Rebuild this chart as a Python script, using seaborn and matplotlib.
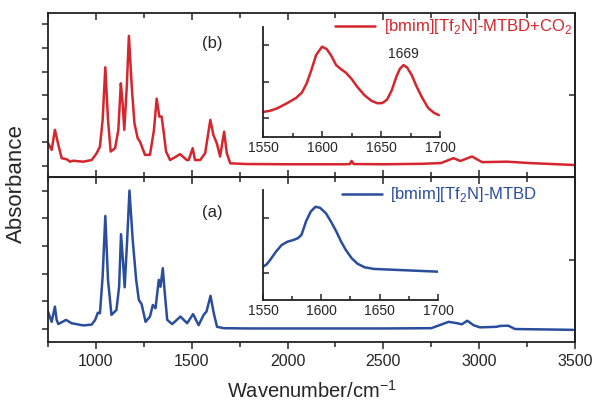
import matplotlib.pyplot as plt
import matplotlib.ticker as mticker
import seaborn as sns

sns.set_style("ticks")
plt.rcParams["font.family"] = ["Liberation Sans", "DejaVu Sans"]
plt.rcParams["mathtext.fontset"] = "custom"
plt.rcParams["mathtext.rm"] = "Liberation Sans"

red = "#d6262d"
blue = "#2a4d9c"

# (b) [bmim][Tf2N]-MTBD+CO2
wn_b = [750, 769, 786, 804, 821, 848, 865, 882, 934, 978, 1004, 1021, 1035, 1049, 1063,
        1077, 1100, 1117, 1130, 1138, 1148, 1161, 1172, 1187, 1201, 1218, 1230, 1256, 1282, 1303,
        1317, 1331, 1343, 1352, 1366, 1387, 1413, 1439, 1474, 1484, 1505, 1517, 1544, 1570, 1597,
        1613, 1631, 1648, 1669, 1683, 1701, 1788, 2000, 2300, 2325, 2334, 2345, 2500, 2700, 2800,
        2866, 2902, 2963, 3015, 3145, 3267, 3493]
abs_b = [0.097, 0.068, 0.153, 0.089, 0.033, 0.028, 0.018, 0.022, 0.018, 0.025, 0.054, 0.082, 0.195, 0.418, 0.195,
         0.061, 0.075, 0.153, 0.350, 0.280, 0.153, 0.336, 0.551, 0.336, 0.181, 0.117, 0.103, 0.047, 0.047, 0.153,
         0.285, 0.209, 0.209, 0.153, 0.061, 0.025, 0.037, 0.050, 0.025, 0.025, 0.075, 0.025, 0.025, 0.054, 0.195,
         0.131, 0.096, 0.040, 0.145, 0.054, 0.011, 0.008, 0.007, 0.007, 0.008, 0.021, 0.008, 0.007, 0.009, 0.012,
         0.033, 0.021, 0.040, 0.016, 0.018, 0.012, 0.004]

# (a) [bmim][Tf2N]-MTBD
wn_a = [750, 769, 786, 795, 804, 844, 873, 934, 978, 996, 1010, 1021, 1035, 1049, 1063,
        1081, 1107, 1121, 1131, 1142, 1150, 1163, 1175, 1192, 1210, 1224, 1238, 1259, 1282, 1297,
        1311, 1328, 1337, 1349, 1358, 1372, 1398, 1441, 1476, 1507, 1536, 1562, 1577, 1598, 1615,
        1632, 1667, 1800, 2000, 2500, 2750, 2841, 2885, 2909, 2938, 2970, 3004, 3091, 3108, 3152,
        3187, 3490]
abs_a = [0.063, 0.026, 0.081, 0.033, 0.018, 0.033, 0.021, 0.013, 0.016, 0.033, 0.059, 0.057, 0.190, 0.409, 0.178,
         0.051, 0.069, 0.153, 0.343, 0.238, 0.151, 0.322, 0.501, 0.322, 0.178, 0.105, 0.091, 0.026, 0.045, 0.087,
         0.075, 0.178, 0.153, 0.220, 0.141, 0.033, 0.018, 0.045, 0.021, 0.054, 0.014, 0.051, 0.063, 0.120, 0.057,
         0.008, 0.003, 0.002, 0.002, 0.002, 0.003, 0.026, 0.021, 0.017, 0.030, 0.014, 0.006, 0.008, 0.011, 0.012,
         0.000, -0.003]

# insets, 1550-1700 cm-1
ins_wn_b = [1550, 1556, 1562, 1570, 1578, 1583, 1587, 1591, 1595, 1600, 1604, 1608, 1612, 1616, 1620,
            1625, 1630, 1636, 1642, 1647, 1651, 1655, 1659, 1663, 1666, 1669, 1672, 1676, 1680, 1685,
            1690, 1695, 1699]
ins_abs_b = [0.233, 0.240, 0.253, 0.280, 0.310, 0.340, 0.390, 0.463, 0.545, 0.591, 0.578, 0.540, 0.490, 0.468,
             0.450, 0.415, 0.370, 0.325, 0.294, 0.281, 0.282, 0.300, 0.350, 0.426, 0.470, 0.490, 0.478, 0.436,
             0.375, 0.310, 0.255, 0.228, 0.216]
ins_wn_a = [1550, 1553, 1556, 1561, 1566, 1571, 1576, 1580, 1583, 1587, 1591, 1595, 1599, 1604, 1608,
            1613, 1617, 1621, 1626, 1631, 1637, 1645, 1667, 1700]
ins_abs_a = [0.224, 0.232, 0.248, 0.278, 0.303, 0.315, 0.321, 0.328, 0.340, 0.390, 0.425, 0.442, 0.438, 0.418,
             0.390, 0.351, 0.315, 0.285, 0.255, 0.235, 0.222, 0.216, 0.212, 0.206]

label_b = r"[bmim][Tf$_2$N]-MTBD+CO$_2$"
label_a = r"[bmim][Tf$_2$N]-MTBD"

fig = plt.figure(figsize=(5.98, 4.09), dpi=100)
ax_b = fig.add_axes([0.0803, 0.5672, 0.8812, 0.4010])
ax_a = fig.add_axes([0.0803, 0.1638, 0.8812, 0.4034], sharex=ax_b)

sns.lineplot(x=wn_b, y=abs_b, ax=ax_b, color=red, lw=1.8, label=label_b)
sns.lineplot(x=wn_a, y=abs_a, ax=ax_a, color=blue, lw=1.8, label=label_a)

ax_b.set_ylim(-0.047, 0.648)
ax_a.set_ylim(-0.047, 0.55)
ax_b.set_yticks([0, 0.1, 0.2, 0.3, 0.4, 0.5, 0.6])
ax_a.set_yticks([0, 0.1, 0.2, 0.3, 0.4, 0.5])
ax_a.set_xlim(750, 3500)
ax_a.xaxis.set_major_locator(mticker.MultipleLocator(500))
ax_a.xaxis.set_minor_locator(mticker.MultipleLocator(250))

for ax, rtick in [(ax_b, 0.3), (ax_a, 0.25)]:
    for s in ax.spines.values():
        s.set_linewidth(1.3)
        s.set_color("#222222")
    ax.tick_params(axis="y", which="both", direction="out", length=4, width=1.1, labelleft=False)
    ax.tick_params(axis="x", which="both", bottom=True, top=True, width=1.1)
    ax.tick_params(axis="x", which="major", length=5, labelsize=11.5)
    ax.tick_params(axis="x", which="minor", length=3.5)
    sec = ax.secondary_yaxis("right")
    sec.set_yticks([rtick])
    sec.tick_params(direction="in", length=4, width=1.1, labelright=False)
    sec.spines["right"].set_linewidth(1.3)
    ax.set_ylabel("")
    ax.set_xlabel("")

ax_b.tick_params(axis="x", which="both", direction="in", labelbottom=False)
ax_a.tick_params(axis="x", which="both", direction="out", top=False)
# inward ticks along top edge of lower panel
top_ax = ax_a.secondary_xaxis("top")
top_ax.xaxis.set_major_locator(mticker.MultipleLocator(500))
top_ax.xaxis.set_minor_locator(mticker.MultipleLocator(250))
top_ax.tick_params(which="both", direction="in", labeltop=False, width=1.1)
top_ax.tick_params(which="major", length=5)
top_ax.tick_params(which="minor", length=3.5)

ax_a.set_xlabel(r"Wavenumber/cm$^{-1}$", fontsize=14.5, labelpad=8)
fig.text(0.028, 0.55, "Absorbance", rotation=90, fontsize=16, ha="center", va="center")

ax_b.text(1606, 0.517, "(b)", fontsize=12, ha="center", va="center")
ax_a.text(1606, 0.422, "(a)", fontsize=12, ha="center", va="center")

leg_b = ax_b.legend(loc="center left", bbox_to_anchor=(0.545, 0.915), frameon=False, fontsize=12,
                    handlelength=2.4, handletextpad=0.5, borderpad=0, borderaxespad=0)
leg_a = ax_a.legend(loc="center left", bbox_to_anchor=(0.557, 0.891), frameon=False, fontsize=12,
                    handlelength=2.4, handletextpad=0.5, borderpad=0, borderaxespad=0)
for leg, c in [(leg_b, red), (leg_a, blue)]:
    for t in leg.get_texts():
        t.set_color(c)

# insets
in_b = fig.add_axes([0.4398, 0.665, 0.296, 0.269])
in_a = fig.add_axes([0.4398, 0.2665, 0.2926, 0.269])
sns.lineplot(x=ins_wn_b, y=ins_abs_b, ax=in_b, color=red, lw=1.8)
sns.lineplot(x=ins_wn_a, y=ins_abs_a, ax=in_a, color=blue, lw=1.8)
in_b.set_ylim(0.096, 0.699)
in_b.set_yticks([0.2, 0.4, 0.6])
in_a.set_ylim(0.103, 0.503)
in_a.set_yticks([0.2, 0.4])
for ax in (in_b, in_a):
    ax.patch.set_alpha(0)
    ax.set_xlim(1550, 1700)
    ax.xaxis.set_major_locator(mticker.MultipleLocator(50))
    ax.xaxis.set_minor_locator(mticker.MultipleLocator(25))
    ax.spines["top"].set_visible(False)
    ax.spines["right"].set_visible(False)
    for s in ("left", "bottom"):
        ax.spines[s].set_linewidth(1.3)
        ax.spines[s].set_color("#222222")
    ax.tick_params(which="both", direction="in", width=1.1, labelleft=False, labelsize=10, pad=3)
    ax.tick_params(which="major", length=4)
    ax.tick_params(which="minor", length=3)
    ax.set_xlabel("")
    ax.set_ylabel("")
in_b.text(1669, 0.55, "1669", fontsize=10, ha="center", va="center")

fig.savefig("out.png", dpi=100)
